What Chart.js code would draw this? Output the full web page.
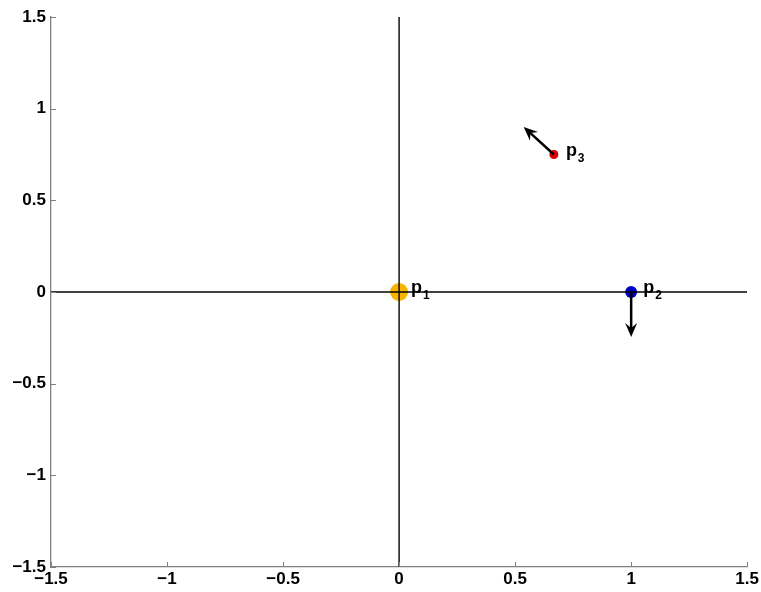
<!DOCTYPE html>
<html>
<head>
<meta charset="utf-8">
<script src="https://cdn.jsdelivr.net/npm/chart.js@4.4.1/dist/chart.umd.min.js"></script>
<style>
html,body{margin:0;padding:0;background:#fff;}
#wrap{width:761px;height:592px;}
</style>
</head>
<body>
<div id="wrap"><canvas id="c" width="761" height="592"></canvas></div>
<script>
// Data
const pointNames = ['1', '2', '3'];
const pointX = [0, 1, 0.667];
const pointY = [0, 0, 0.75];
const pointColors = ['#f7b500', '#0000c8', '#dd0000'];
const pointRadii = [9, 6, 4.5];
// arrows: start index, vector
const arrowFrom = [1, 2];
const arrowDX = [0, -0.13];
const arrowDY = [-0.245, 0.15];
const tickValues = [-1.5, -1, -0.5, 0, 0.5, 1, 1.5];
const axisMin = -1.5, axisMax = 1.5;

const fmt = v => String(v).replace('-', '\u2212');

const datasets = [
  {
    data: [{x: axisMin, y: 0}, {x: axisMax, y: 0}],
    showLine: true, borderColor: '#000', borderWidth: 1.4, pointRadius: 0, order: 0
  },
  {
    data: [{x: 0, y: axisMin}, {x: 0, y: axisMax}],
    showLine: true, borderColor: '#000', borderWidth: 1.4, pointRadius: 0, order: 0
  }
];
pointX.forEach((x, i) => {
  datasets.push({
    data: [{x: x, y: pointY[i]}],
    pointRadius: pointRadii[i],
    pointBackgroundColor: pointColors[i],
    pointBorderColor: pointColors[i],
    pointBorderWidth: 0,
    order: 1
  });
});

const extras = {
  id: 'extras',
  afterDraw(chart) {
    const ctx = chart.ctx;
    const xs = chart.scales.x, ys = chart.scales.y;
    const area = chart.chartArea;
    ctx.save();
    // inward ticks
    ctx.strokeStyle = '#808080';
    ctx.lineWidth = 1;
    tickValues.forEach(v => {
      const px = Math.round(xs.getPixelForValue(v)) + 0.5;
      ctx.beginPath();
      ctx.moveTo(px, area.bottom);
      ctx.lineTo(px, area.bottom - 5);
      ctx.stroke();
      const py = Math.round(ys.getPixelForValue(v)) + 0.5;
      ctx.beginPath();
      ctx.moveTo(area.left, py);
      ctx.lineTo(area.left + 5, py);
      ctx.stroke();
    });
    // arrows
    ctx.strokeStyle = '#000';
    ctx.fillStyle = '#000';
    ctx.lineWidth = 2.5;
    arrowFrom.forEach((idx, k) => {
      const x0 = xs.getPixelForValue(pointX[idx]);
      const y0 = ys.getPixelForValue(pointY[idx]);
      const x1 = xs.getPixelForValue(pointX[idx] + arrowDX[k]);
      const y1 = ys.getPixelForValue(pointY[idx] + arrowDY[k]);
      const ang = Math.atan2(y1 - y0, x1 - x0);
      const hl = 14, hw = 6;
      const bx = x1 - hl * Math.cos(ang), by = y1 - hl * Math.sin(ang);
      ctx.beginPath();
      ctx.moveTo(x0, y0);
      ctx.lineTo(x1 - 5 * Math.cos(ang), y1 - 5 * Math.sin(ang));
      ctx.stroke();
      const nx = -Math.sin(ang), ny = Math.cos(ang);
      const ix = x1 - 9 * Math.cos(ang), iy = y1 - 9 * Math.sin(ang);
      ctx.beginPath();
      ctx.moveTo(x1, y1);
      ctx.lineTo(bx + nx * hw, by + ny * hw);
      ctx.lineTo(ix, iy);
      ctx.lineTo(bx - nx * hw, by - ny * hw);
      ctx.closePath();
      ctx.fill();
    });
    // labels
    ctx.fillStyle = '#000';
    ctx.textBaseline = 'alphabetic';
    ctx.textAlign = 'left';
    pointX.forEach((x, i) => {
      const px = xs.getPixelForValue(x) + 12;
      const py = ys.getPixelForValue(pointY[i]);
      ctx.font = 'bold 18px "Liberation Sans", Arial, sans-serif';
      ctx.fillText('p', px, py + 1);
      const w = ctx.measureText('p').width;
      ctx.font = 'bold 12px "Liberation Sans", Arial, sans-serif';
      ctx.fillText(pointNames[i], px + w + 1, py + 7);
    });
    ctx.restore();
  }
};

new Chart(document.getElementById('c'), {
  type: 'scatter',
  data: { datasets },
  options: {
    responsive: false,
    animation: false,
    devicePixelRatio: 1,
    layout: { padding: { top: 17, right: 13, left: 0, bottom: 0 } },
    plugins: { legend: { display: false }, tooltip: { enabled: false } },
    scales: {
      x: {
        type: 'linear', min: axisMin, max: axisMax,
        afterBuildTicks: s => { s.ticks = tickValues.map(v => ({value: v})); },
        afterFit: s => { s.height = 25; },
        grid: { display: false, drawTicks: false },
        border: { display: true, color: '#808080', width: 1.3 },
        ticks: { padding: 2, color: '#000', font: { family: '"Liberation Sans", Arial, sans-serif', size: 17, weight: 'bold' }, maxRotation: 0, autoSkip: false, callback: v => fmt(v) }
      },
      y: {
        type: 'linear', min: axisMin, max: axisMax,
        afterBuildTicks: s => { s.ticks = tickValues.map(v => ({value: v})); },
        afterFit: s => { s.width = 51; },
        grid: { display: false, drawTicks: false },
        border: { display: true, color: '#808080', width: 1.3 },
        ticks: { padding: 5, color: '#000', font: { family: '"Liberation Sans", Arial, sans-serif', size: 17, weight: 'bold' }, autoSkip: false, callback: v => fmt(v) }
      }
    }
  },
  plugins: [extras]
});
</script>
</body>
</html>
